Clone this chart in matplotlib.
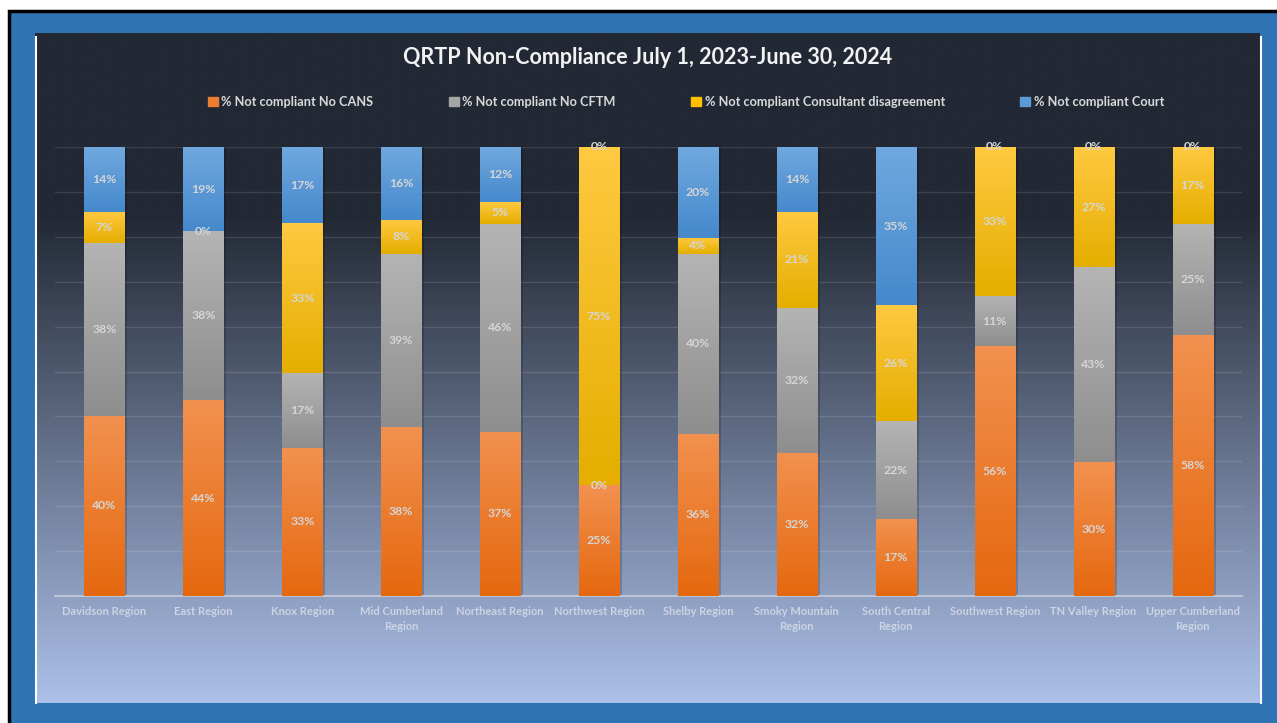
import numpy as np
import matplotlib
matplotlib.use("Agg")
import matplotlib.pyplot as plt
from matplotlib.colors import LinearSegmentedColormap
from matplotlib.patches import Rectangle

plt.rcParams['font.family'] = ['Lato', 'DejaVu Sans']

title = "QRTP Non-Compliance July 1, 2023-June 30, 2024"
regions = ["Davidson Region", "East Region", "Knox Region", "Mid Cumberland\nRegion",
           "Northeast Region", "Northwest Region", "Shelby Region", "Smoky Mountain\nRegion",
           "South Central\nRegion", "Southwest Region", "TN Valley Region", "Upper Cumberland\nRegion"]
series_names = ["% Not compliant No CANS", "% Not compliant No CFTM",
                "% Not compliant Consultant disagreement", "% Not compliant Court"]
no_cans = [0.402, 0.436, 0.330, 0.376, 0.366, 0.247, 0.361, 0.318, 0.171, 0.556, 0.298, 0.581]
no_cftm = [0.384, 0.376, 0.166, 0.386, 0.463, 0.0, 0.401, 0.322, 0.218, 0.112, 0.434, 0.248]
consultant = [0.070, 0.0, 0.334, 0.076, 0.049, 0.753, 0.036, 0.214, 0.259, 0.332, 0.268, 0.171]
court = [0.144, 0.188, 0.170, 0.162, 0.122, 0.0, 0.202, 0.144, 0.352, 0.0, 0.0, 0.0]

# (top colour, bottom colour, legend colour)
colors = [("#F2914F", "#E5680F", "#ED7D31"),
          ("#B4B4B4", "#8E8E8E", "#A5A5A5"),
          ("#FFC941", "#E5AE00", "#FFC000"),
          ("#70A8DF", "#4589CC", "#5B9BD5")]

W, H = 1277, 723
fig = plt.figure(figsize=(W / 100, H / 100), dpi=100)
fig.patch.set_facecolor("white")

# outer frame
bg = fig.add_axes([0, 0, 1, 1])
bg.set_xlim(0, W)
bg.set_ylim(H, 0)
bg.axis("off")
bg.add_patch(Rectangle((9, 11), W, H, facecolor="#2E74B5", edgecolor="#000000", lw=2.5))
# inner gradient panel
yy = np.linspace(0, 1, 300)
t = np.clip((yy - 0.27) / 0.73, 0, 1)
c0 = np.array([0x22, 0x28, 0x34]) / 255
c1 = np.array([0xAC, 0xC0, 0xE8]) / 255
img = (c0[None, :] * (1 - t[:, None]) + c1[None, :] * t[:, None])[:, None, :]
bg.imshow(img, extent=(35, 1260, 703, 33), aspect="auto", zorder=1, interpolation="bilinear")
bg.plot([35.5, 35.5], [37, 703], color="white", lw=1.5, zorder=2)
bg.plot([1261, 1261], [37, 703], color="white", lw=1.5, zorder=2)

fig.text(648 / W, 1 - 58 / H, title, ha="center", va="center", color="#F2F2F2",
         fontsize=15.5, fontweight="bold")

ax = fig.add_axes([55 / W, 1 - 596 / H, (1242 - 55) / W, 449 / H])
ax.set_facecolor("none")
x = np.arange(len(regions))
ax.set_xlim(-0.5, len(regions) - 0.5)
ax.set_ylim(0, 1)

data = [np.array(d) for d in [no_cans, no_cftm, consultant, court]]
totals = sum(data)
bottom = np.zeros(len(regions))
bw = 0.405
for k, vals in enumerate(data):
    heights = vals / totals
    bars = ax.bar(x, heights, bw, bottom=bottom, color=colors[k][2], zorder=3,
                  label=series_names[k], linewidth=0)
    cmap = LinearSegmentedColormap.from_list("g%d" % k, [colors[k][1], colors[k][0]])
    for b in bars:
        x0, y0 = b.get_x(), b.get_y()
        w, h = b.get_width(), b.get_height()
        if h > 0:
            ax.imshow(np.linspace(0, 1, 100)[:, None], cmap=cmap, origin="lower",
                      extent=(x0, x0 + w, y0, y0 + h), aspect="auto", zorder=3.5,
                      interpolation="bilinear")
    for xi, v, hh, b0 in zip(x, vals, heights, bottom):
        ax.text(xi, b0 + hh / 2, f"{round(v * 100)}%", ha="center", va="center", color="#D6D6D6",
                fontsize=8.8, fontweight="bold", zorder=5)
    bottom = bottom + heights

# shadows
for xi, tot in zip(x, bottom):
    ax.add_patch(Rectangle((xi - bw / 2 + 0.03, 0), bw, tot, facecolor="black", alpha=0.18,
                           zorder=2.5, lw=0))

ax.set_yticks(np.linspace(0, 1, 11))
ax.yaxis.grid(True, color="white", alpha=0.12, lw=1)
ax.set_axisbelow(True)
ax.tick_params(axis="y", left=False, labelleft=False)
ax.set_xticks(x)
ax.set_xticklabels(regions, color="#CDD4E3", fontsize=8, fontweight="bold", linespacing=1.45)
ax.tick_params(axis="x", length=0, pad=7)
for s in ["top", "right", "left"]:
    ax.spines[s].set_visible(False)
ax.spines["bottom"].set_color("#BCC5D8")
ax.spines["bottom"].set_linewidth(1.5)

fig.legend(handles=[Rectangle((0, 0), 1, 1, color=c[2]) for c in colors], labels=series_names,
           loc="center", bbox_to_anchor=(686 / W, 1 - 102 / H), ncol=4, frameon=False,
           handlelength=0.75, handleheight=0.75, handletextpad=0.3,
           columnspacing=5.9, labelcolor="#D9D9D9", prop={"weight": "bold", "size": 9.2})

fig.savefig("out.png", dpi=100)
